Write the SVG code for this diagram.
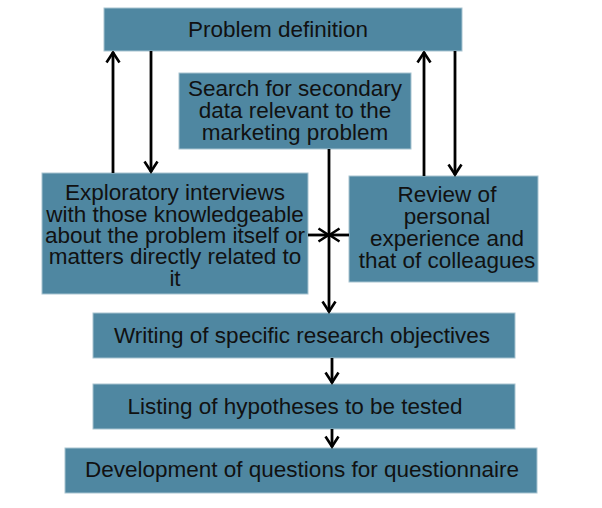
<svg xmlns="http://www.w3.org/2000/svg" width="602" height="508" viewBox="0 0 602 508">
<defs>
<style>
.box{fill:#4f87a1;stroke:#a7c3d0;stroke-width:1}
.t{font-family:"Liberation Sans",Arial,sans-serif;font-size:22.5px;fill:#111;text-anchor:middle}
.c{stroke:#000;stroke-width:2.8;fill:none}
</style>
<marker id="ah" viewBox="0 0 14 16" refX="12.5" refY="8" markerWidth="14" markerHeight="16" markerUnits="userSpaceOnUse" orient="auto">
<path d="M2,1.5 L12,8 L2,14.5" fill="none" stroke="#000" stroke-width="2.6"/>
</marker>
</defs>
<rect width="602" height="508" fill="#fff"/>
<g id="problem-definition"><rect class="box" x="104" y="8" width="358" height="43"/><text class="t" x="278" y="37">Problem definition</text></g>
<g id="search-secondary"><rect class="box" x="179" y="73" width="232" height="76"/><text class="t" x="295" y="96">Search for secondary</text><text class="t" x="295" y="118">data relevant to the</text><text class="t" x="295" y="140">marketing problem</text></g>
<g id="exploratory"><rect class="box" x="42" y="173" width="266" height="121"/><text class="t" x="175" y="200">Exploratory interviews</text><text class="t" x="175" y="222">with those knowledgeable</text><text class="t" x="175" y="243">about the problem itself or</text><text class="t" x="175" y="264">matters directly related to</text><text class="t" x="175" y="286">it</text></g>
<g id="review"><rect class="box" x="349" y="176" width="189" height="106"/><text class="t" x="447" y="202">Review of</text><text class="t" x="447" y="224">personal</text><text class="t" x="447" y="246">experience and</text><text class="t" x="447" y="268">that of colleagues</text></g>
<g id="objectives"><rect class="box" x="93" y="313" width="422" height="45"/><text class="t" x="302" y="343">Writing of specific research objectives</text></g>
<g id="hypotheses"><rect class="box" x="93" y="384" width="422" height="45"/><text class="t" x="295" y="414">Listing of hypotheses to be tested</text></g>
<g id="questions"><rect class="box" x="65" y="448" width="472" height="45"/><text class="t" x="302" y="477">Development of questions for questionnaire</text></g>
<g id="connectors">
<line class="c" x1="113" y1="173" x2="113" y2="52" marker-end="url(#ah)"/>
<line class="c" x1="151" y1="51" x2="151" y2="172" marker-end="url(#ah)"/>
<line class="c" x1="424" y1="176" x2="424" y2="52" marker-end="url(#ah)"/>
<line class="c" x1="455" y1="51" x2="455" y2="175" marker-end="url(#ah)"/>
<line class="c" x1="329" y1="149" x2="329" y2="312" marker-end="url(#ah)"/>
<line class="c" x1="308" y1="235" x2="329" y2="235" marker-end="url(#ah)"/>
<line class="c" x1="349" y1="235" x2="329" y2="235" marker-end="url(#ah)"/>
<line class="c" x1="332" y1="358" x2="332" y2="383" marker-end="url(#ah)"/>
<line class="c" x1="332" y1="429" x2="332" y2="447" marker-end="url(#ah)"/>
</g>
</svg>
